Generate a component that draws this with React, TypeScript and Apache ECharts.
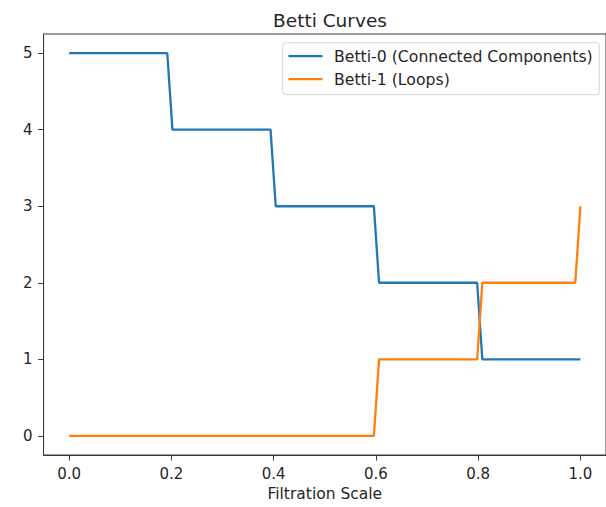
import React, { useEffect, useRef } from "react";
import * as echarts from "echarts";

const titleText = "Betti Curves";
const xLabel = "Filtration Scale";
const seriesNames = ["Betti-0 (Connected Components)", "Betti-1 (Loops)"];
const xTicks = [0, 0.2, 0.4, 0.6, 0.8, 1.0];
const yTicks = [0, 1, 2, 3, 4, 5];

const betti0X = [0, 0.1919, 0.202, 0.3939, 0.404, 0.596, 0.6061, 0.798, 0.8081, 1.0];
const betti0Y = [5, 5, 4, 4, 3, 3, 2, 2, 1, 1];
const betti1X = [0, 0.596, 0.6061, 0.798, 0.8081, 0.9899, 1.0];
const betti1Y = [0, 0, 1, 1, 2, 2, 3];

const FONT = "DejaVu Sans";
const TXT = "#262626";
const AX = "#3a3a3a";

export default function App() {
  const ref = useRef<HTMLDivElement>(null);
  useEffect(() => {
    if (!ref.current) return;
    const chart = echarts.init(ref.current, null, { renderer: "svg" });
    const pair = (xs: number[], ys: number[]) => xs.map((x, i) => [x, ys[i]]);
    chart.setOption({
      animation: false,
      backgroundColor: "#ffffff",
      title: {
        text: titleText,
        left: 325,
        top: 6,
        textAlign: "center",
        textStyle: { fontFamily: FONT, fontSize: 18.5, fontWeight: "normal", color: TXT },
      },
      legend: {
        orient: "vertical",
        right: 6.7,
        top: 42.7,
        itemWidth: 34,
        itemHeight: 14,
        itemGap: 7,
        padding: [5.5, 6.6, 7.5, 4.6],
        backgroundColor: "rgba(255,255,255,0.8)",
        borderColor: "#d6d6d6",
        borderWidth: 1,
        borderRadius: 3,
        itemStyle: { opacity: 0 },
        lineStyle: { width: 2.3 },
        textStyle: { fontFamily: FONT, fontSize: 15.7, color: TXT, padding: [0, 0, 0, 6.6] },
        data: seriesNames,
      },
      grid: {
        left: 43.6,
        top: 34,
        width: 565,
        height: 423.5,
        show: true,
        borderColor: AX,
        borderWidth: 1,
        backgroundColor: "transparent",
      },
      xAxis: {
        type: "value",
        min: -0.05,
        max: 1.05,
        name: xLabel,
        nameLocation: "middle",
        nameGap: 31,
        nameTextStyle: { fontFamily: FONT, fontSize: 15.5, color: TXT },
        axisLine: { show: true, onZero: false, lineStyle: { color: AX, width: 1 } },
        axisTick: { show: true, length: 5.5, customValues: xTicks, lineStyle: { color: AX, width: 1 } },
        axisLabel: {
          customValues: xTicks,
          margin: 11,
          fontFamily: FONT,
          fontSize: 15,
          color: TXT,
          formatter: (v: number) => v.toFixed(1),
        },
        splitLine: { show: false },
      },
      yAxis: {
        type: "value",
        min: -0.25,
        max: 5.25,
        axisLine: { show: true, onZero: false, lineStyle: { color: AX, width: 1 } },
        axisTick: { show: true, length: 5.5, customValues: yTicks, lineStyle: { color: AX, width: 1 } },
        axisLabel: {
          customValues: yTicks,
          margin: 11,
          fontFamily: FONT,
          fontSize: 15,
          color: TXT,
          formatter: (v: number) => String(v),
        },
        splitLine: { show: false },
      },
      series: [
        {
          name: seriesNames[0],
          type: "line",
          data: pair(betti0X, betti0Y),
          symbol: "none",
          lineStyle: { color: "#1f77b4", width: 2.3 },
          itemStyle: { color: "#1f77b4" },
        },
        {
          name: seriesNames[1],
          type: "line",
          data: pair(betti1X, betti1Y),
          symbol: "none",
          lineStyle: { color: "#ff7f0e", width: 2.3 },
          itemStyle: { color: "#ff7f0e" },
        },
      ],
    });
    return () => chart.dispose();
  }, []);
  return <div ref={ref} style={{ width: 606, height: 507, position: "absolute", left: 0, top: 0 }} />;
}
